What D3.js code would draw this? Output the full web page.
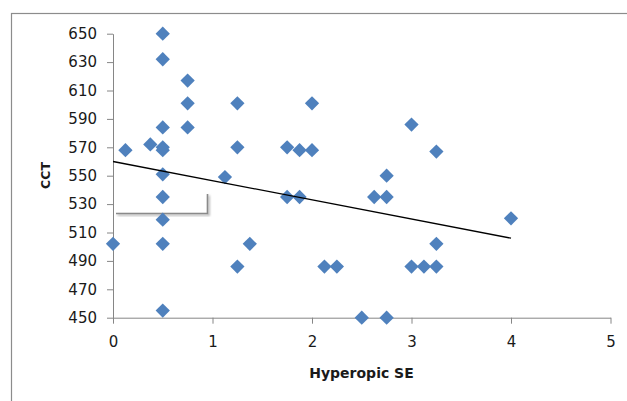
<!DOCTYPE html>
<html>
<head>
<meta charset="utf-8">
<script src="https://cdn.jsdelivr.net/npm/d3@7"></script>
<style>
  body { margin: 0; background: #fff; }
  svg { display: block; }
  .tick text { font-family: "DejaVu Sans", sans-serif; font-size: 15px; fill: #1a1a1a; }
  .domain, .tick line { stroke: #868686; }
</style>
</head>
<body>
<svg width="627" height="401"></svg>
<script>
// Hyperopic SE (x) vs CCT (y)
const seValues = [0.5, 0.5, 0.75, 0.75, 0.75, 0.5, 0.125, 0.375, 0.5, 0.5,
  0.5, 1.125, 0.5, 0.5, 0.5, 0, 0.5, 1.25, 2.0, 1.25,
  1.75, 1.875, 2.0, 1.75, 1.875, 1.375, 1.25, 2.125, 2.25, 3.0,
  3.25, 2.75, 2.625, 2.75, 4.0, 3.25, 3.0, 3.125, 3.25, 2.5, 2.75]
const cctValues = [650, 632, 617, 601, 584, 584, 568, 572, 570, 568,
  551, 549, 535, 519, 502, 502, 455, 601, 601, 570,
  570, 568, 568, 535, 535, 502, 486, 486, 486, 586,
  567, 550, 535, 535, 520, 502, 486, 486, 486, 450, 450]

// linear trendline as drawn in the chart
const trendRange = [0, 4]
const trendIntercept = 560
const trendSlope = -13.5

const xTicks = [0, 1, 2, 3, 4, 5]
const yTicks = [450, 470, 490, 510, 530, 550, 570, 590, 610, 630, 650]

const points = seValues.map((d, i) => ({ se: d, cct: cctValues[i] }))

const svg = d3.select('svg')

// outer chart frame (runs off the right and bottom of the picture)
svg.append('rect')
    .attr('x', 11.5)
    .attr('y', 13.5)
    .attr('width', 700)
    .attr('height', 500)
    .attr('fill', 'none')
    .attr('stroke', '#8c8c8c')
    .attr('stroke-width', 1.2)

const x = d3.scaleLinear().domain([0, 5]).range([113, 610.5])
const y = d3.scaleLinear().domain([450, 650]).range([317.7, 33.7])

svg.append('g')
    .attr('transform', 'translate(0,317.7)')
    .call(d3.axisBottom(x).tickValues(xTicks).tickFormat(d3.format('d'))
        .tickSize(6).tickPadding(13).tickSizeOuter(0))

svg.append('g')
    .attr('transform', 'translate(113,0)')
    .call(d3.axisLeft(y).tickValues(yTicks).tickSize(6).tickPadding(10).tickSizeOuter(0))

// stray grey bracket with a soft shadow
const defs = svg.append('defs')
defs.append('filter').attr('id', 'soft')
    .append('feGaussianBlur').attr('stdDeviation', 1.2)

const bracket = 'M116,213.5 H207.5 V194'
svg.append('path')
    .attr('d', bracket)
    .attr('transform', 'translate(1.5,1.5)')
    .attr('fill', 'none')
    .attr('stroke', '#bbb')
    .attr('stroke-width', 2)
    .attr('filter', 'url(#soft)')
svg.append('path')
    .attr('d', bracket)
    .attr('fill', 'none')
    .attr('stroke', '#8a8a8a')
    .attr('stroke-width', 1.6)

// markers
svg.append('g').selectAll('path')
    .data(points)
    .enter().append('path')
        .attr('d', d3.symbol().type(d3.symbolSquare).size(102))
        .attr('transform', d => `translate(${x(d.se)},${y(d.cct)}) rotate(45)`)
        .attr('fill', '#4f81bd')

// trendline
const trend = d3.line()
    .x(d => x(d))
    .y(d => y(trendIntercept + trendSlope * d))
svg.append('path')
    .attr('d', trend(trendRange))
    .attr('fill', 'none')
    .attr('stroke', '#000')
    .attr('stroke-width', 1.3)

// axis titles
svg.append('text')
    .attr('x', 361.5)
    .attr('y', 378)
    .attr('text-anchor', 'middle')
    .attr('font-family', 'DejaVu Sans, sans-serif')
    .attr('font-weight', 'bold')
    .attr('font-size', 14)
    .attr('fill', '#1a1a1a')
    .text('Hyperopic SE')

svg.append('text')
    .attr('transform', 'translate(50,175.5) rotate(-90)')
    .attr('text-anchor', 'middle')
    .attr('font-family', 'DejaVu Sans, sans-serif')
    .attr('font-weight', 'bold')
    .attr('font-size', 12.5)
    .attr('fill', '#1a1a1a')
    .text('CCT')
</script>
</body>
</html>
